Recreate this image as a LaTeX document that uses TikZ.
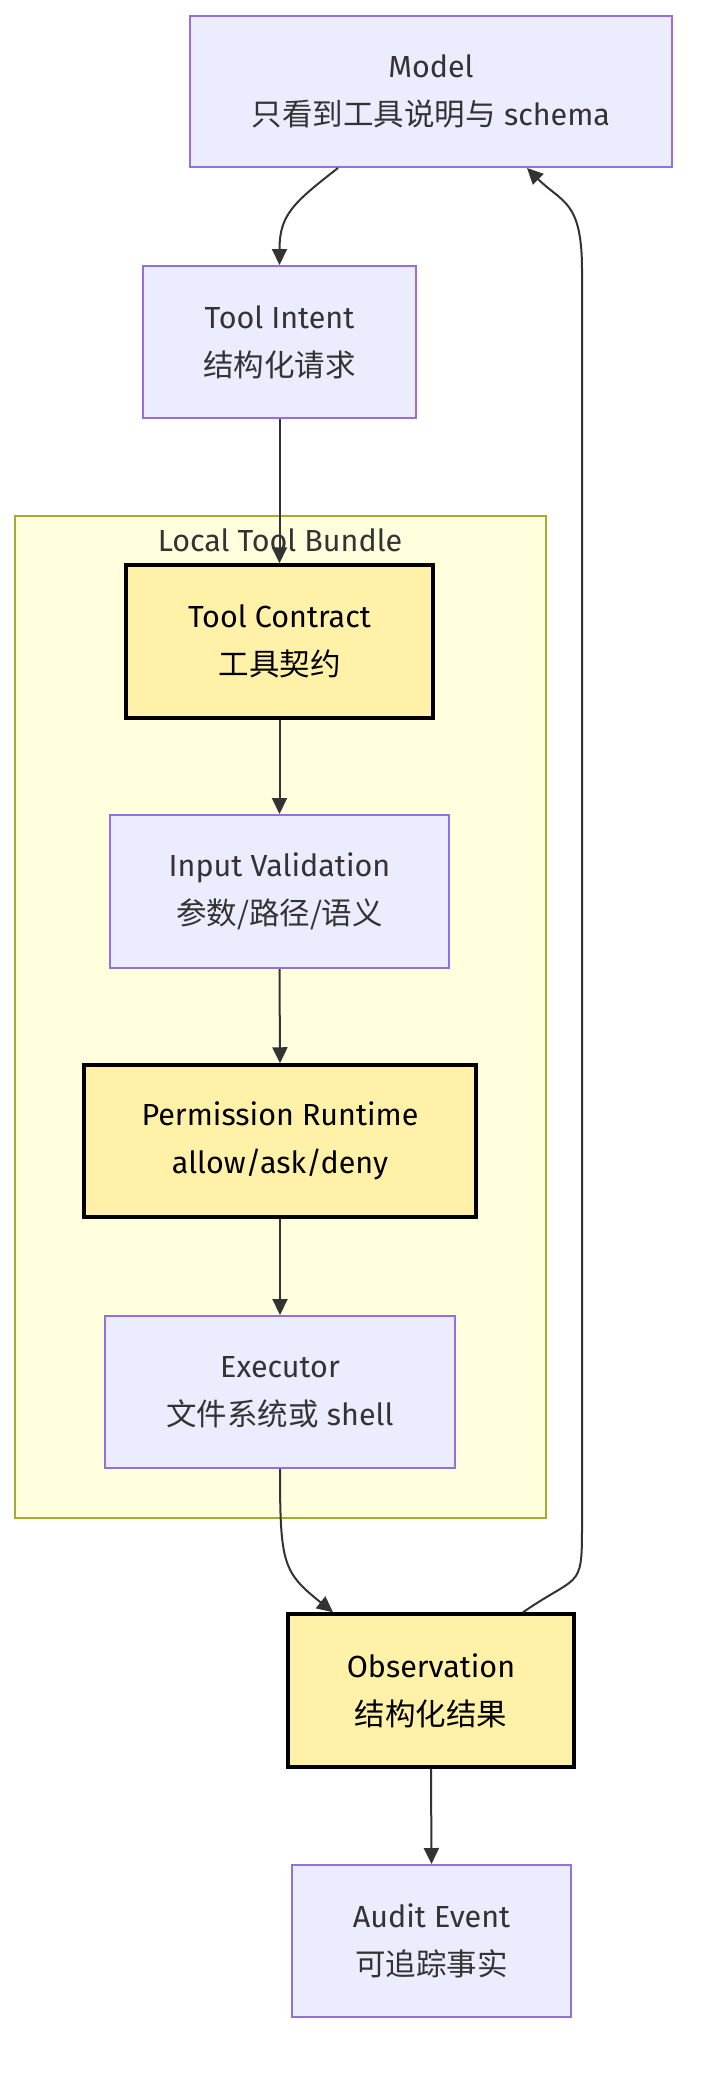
\documentclass[tikz,border=0pt]{standalone}
\usepackage{fontspec}
\setmainfont{Fira Sans}
\newfontfamily\cjk{Noto Sans CJK SC}
\usetikzlibrary{arrows.meta}
\definecolor{nfill}{HTML}{ECECFF}
\definecolor{nstroke}{HTML}{9370DB}
\definecolor{hfill}{HTML}{FFF2A8}
\definecolor{cfill}{HTML}{FFFFDE}
\definecolor{cstroke}{HTML}{AAAA33}
\definecolor{ink}{HTML}{333333}
\begin{document}
\begin{tikzpicture}[x=1pt,y=-1pt,
  base/.style={rectangle, align=center, font=\fontsize{30.5}{48}\selectfont, inner sep=0pt},
  plain/.style={base, draw=nstroke, fill=nfill, line width=2pt, text=ink},
  hl/.style={base, draw=black, fill=hfill, line width=3.5pt, text=black},
  arr/.style={draw=ink, line width=2pt, -{Triangle[length=16pt,width=15pt]}}]
\useasboundingbox (0,0) rectangle (704,2080);
\fill[white] (0,0) rectangle (704,2080);
% cluster
\node[draw=cstroke, fill=cfill, line width=2pt, minimum width=531pt, minimum height=1002pt, inner sep=0pt] (bundle) at (280.5,1017) {};
\node[text=ink, font=\fontsize{30.5}{48}\selectfont, anchor=center] (bundlelabel) at (280,540) {Local Tool Bundle};
% nodes
\node[plain, minimum width=482pt, minimum height=151pt] (model) at (431,91.5) {Model\\{\cjk 只看到工具说明与} schema};
\node[plain, minimum width=273pt, minimum height=152pt] (intent) at (279.5,342) {Tool Intent\\{\cjk 结构化请求}};
\node[hl, minimum width=307pt, minimum height=153pt] (contract) at (279.5,641.5) {Tool Contract\\{\cjk 工具契约}};
\node[plain, minimum width=339pt, minimum height=153pt] (valid) at (279.5,891.5) {Input Validation\\{\cjk 参数/路径/语义}};
\node[hl, minimum width=392pt, minimum height=152pt] (perm) at (280,1141) {Permission Runtime\\allow/ask/deny};
\node[plain, minimum width=350pt, minimum height=152pt] (exec) at (280,1392) {Executor\\{\cjk 文件系统或} shell};
\node[hl, minimum width=286pt, minimum height=153pt] (obs) at (431,1690.5) {Observation\\{\cjk 结构化结果}};
\node[plain, minimum width=279pt, minimum height=152pt] (audit) at (431.5,1941) {Audit Event\\{\cjk 可追踪事实}};
% connectors
\draw[arr] ([xshift=-93pt]model.south) .. controls +(-45,35) and +(0,-50) .. (intent.north);
\draw[arr] (intent.south) -- (contract.north);
\draw[arr] (contract.south) -- (valid.north);
\draw[arr] (valid.south) -- (perm.north);
\draw[arr] (perm.south) -- (exec.north);
\draw[arr] (exec.south) .. controls +(0,95) and +(-50,-40) .. ([xshift=-98pt]obs.north);
\coordinate (r1) at (582,1530);
\coordinate (r2) at (582,270);
\draw[arr] ([xshift=92pt]obs.north) .. controls +(55,-38) and +(0,60) .. (r1) -- (r2) .. controls +(0,-70) and +(35,35) .. ([xshift=96pt]model.south);
\draw[arr] (obs.south) -- (audit.north);
\end{tikzpicture}
\end{document}
